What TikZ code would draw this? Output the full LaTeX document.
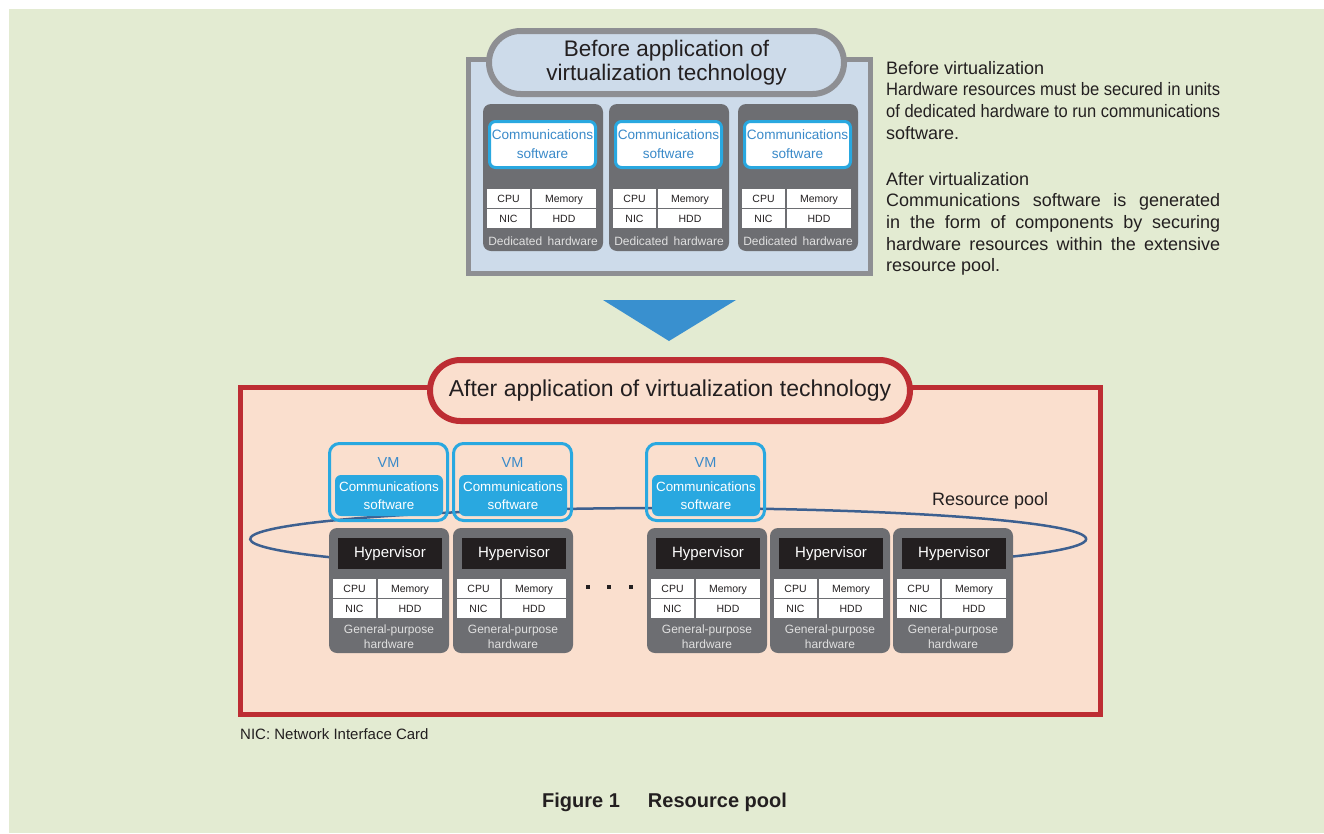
\documentclass[tikz,border=0pt]{standalone}
\usepackage{fontspec}
\setmainfont{Liberation Sans}
\usepackage{graphicx}
\usetikzlibrary{shapes.misc}
\definecolor{bggreen}{HTML}{E3EBD2}
\definecolor{beforefill}{HTML}{CDDBEA}
\definecolor{bordgray}{HTML}{8E8F93}
\definecolor{hwgray}{HTML}{6D6E72}
\definecolor{commblue}{HTML}{29A8E0}
\definecolor{commtext}{HTML}{3A8AC9}
\definecolor{peach}{HTML}{FADFCE}
\definecolor{redc}{HTML}{BD2D33}
\definecolor{poolblue}{HTML}{3D6090}
\definecolor{arrowblue}{HTML}{3990CF}
\definecolor{ink}{HTML}{231F20}
\definecolor{labelgray}{HTML}{E0E0E0}
\newcommand\fs[2]{\fontsize{#1}{#2}\selectfont}
\begin{document}
\begin{tikzpicture}[x=1pt,y=-1pt,
  hwbox/.style={fill=hwgray, rounded corners=8pt, inner sep=0pt, minimum width=120pt},
  cell/.style={fill=white, inner sep=0pt, minimum height=19pt, text height=7.6pt, text depth=0.4pt, text=ink, font=\fs{10.5}{12}},
  commw/.style={draw=commblue, line width=3pt, fill=white, rounded corners=6pt, minimum width=106pt, minimum height=46pt, inner sep=0pt, align=center, text=commtext, font=\fs{13.6}{19}},
  vmbox/.style={draw=commblue, line width=3pt, rounded corners=10pt, minimum width=118pt, minimum height=77pt, inner sep=0pt},
  vmlabel/.style={text=commtext, font=\fs{14.5}{16}, inner sep=0pt},
  vmcomm/.style={fill=commblue, rounded corners=6pt, minimum width=108pt, minimum height=41pt, inner sep=0pt, text=white, align=center, font=\fs{13.4}{18}},
  hyp/.style={fill=ink, minimum width=104pt, minimum height=31pt, inner sep=0pt, text height=11pt, text depth=3pt, text=white, font=\fs{15}{18}},
  hwlabel/.style={text=labelgray, align=center, inner sep=0pt},
  rtext/.style={anchor=base west, inner sep=0pt, font=\fs{18}{21}, text=ink},
  pill/.style={rounded rectangle, line width=6pt, inner sep=0pt, align=center, text=ink, font=\fs{22.5}{24}}
]
\useasboundingbox (0,0) rectangle (1324,833);
\fill[white] (0,0) rectangle (1324,833);
\fill[bggreen] (9,9) rectangle (1324,833);

% ---------- Before ----------
\node[draw=bordgray, line width=5pt, fill=beforefill, minimum width=402pt, minimum height=214pt, inner sep=0pt] (beforebox) at (669.5,166.5) {};
\node[pill, draw=bordgray, fill=beforefill, minimum width=355pt, minimum height=63pt] (beforetitle) at (666.5,62.5) {Before application of\\virtualization technology};

\foreach \i/\x in {1/483,2/609,3/738}{
  \node[hwbox, minimum height=147pt] (d\i) at ({\x+60},177.5) {};
  \node[commw] (dc\i) at ({\x+59.5},144.5) {Communications\\software};
  \node[cell, minimum width=43pt] (dcpu\i) at ({\x+25.5},198.5) {CPU};
  \node[cell, minimum width=64pt] (dmem\i) at ({\x+81},198.5) {Memory};
  \node[cell, minimum width=43pt] (dnic\i) at ({\x+25.5},218.5) {NIC};
  \node[cell, minimum width=64pt] (dhdd\i) at ({\x+81},218.5) {HDD};
  \node[hwlabel, font=\fs{12}{14}] (dl\i) at ({\x+60},241) {Dedicated\hspace{0.45em}hardware};
}

% ---------- Right text ----------
\node[rtext] (t1) at (886,74) {Before virtualization};
\node[rtext] (t2) at (886,95.7) {\resizebox{334pt}{\height}{Hardware resources must be secured in units}};
\node[rtext] (t3) at (886,117.4) {\resizebox{334pt}{\height}{of dedicated hardware to run communications}};
\node[rtext] (t4) at (886,139.1) {software.};
\node[rtext] (t5) at (886,185) {After virtualization};
\node[rtext] (t6) at (886,206.7) {\makebox[334pt][s]{Communications software is generated}};
\node[rtext] (t7) at (886,228.4) {\makebox[334pt][s]{in the form of components by securing}};
\node[rtext] (t8) at (886,250.1) {\makebox[334pt][s]{hardware resources within the extensive}};
\node[rtext] (t9) at (886,271.8) {resource pool.};

% ---------- Arrow ----------
\fill[arrowblue] (603,300) -- (736,300) -- (669,341) -- cycle;

% ---------- After ----------
\node[draw=redc, line width=5pt, fill=peach, minimum width=860pt, minimum height=327pt, inner sep=0pt] (afterbox) at (670,550.5) {};
\node[pill, draw=redc, fill=peach, minimum width=480pt, minimum height=61pt, font=\fs{23}{24}] (aftertitle) at (670,390.5) {After application of virtualization technology};

% resource pool ellipse
\draw[poolblue, line width=2.5pt] (1013,556.5) arc[start angle=-34.4, end angle=215.8, x radius=418pt, y radius=31pt];
\node[anchor=base west, inner sep=0pt, font=\fs{18}{20}, text=ink] (pool) at (932,505) {Resource pool};

\foreach \i/\x in {1/328,2/452,3/645}{
  \node[vmbox] (vm\i) at ({\x+60.5},482) {};
  \node[vmlabel] (vml\i) at ({\x+60.5},462.5) {VM};
  \node[vmcomm] (vc\i) at ({\x+61},495.5) {Communications\\software};
}

\foreach \i/\x in {1/329,2/453,3/647,4/770,5/893}{
  \node[hwbox, minimum height=125pt] (h\i) at ({\x+60},590.5) {};
  \node[hyp] (hy\i) at ({\x+61},553.5) {Hypervisor};
  \node[cell, minimum width=43pt] (hcpu\i) at ({\x+25.5},588.5) {CPU};
  \node[cell, minimum width=64pt] (hmem\i) at ({\x+81},588.5) {Memory};
  \node[cell, minimum width=43pt] (hnic\i) at ({\x+25.5},608.5) {NIC};
  \node[cell, minimum width=64pt] (hhdd\i) at ({\x+81},608.5) {HDD};
  \node[hwlabel, font=\fs{12}{15}] (hl\i) at ({\x+60},636.5) {General-purpose\\hardware};
}

% dots
\fill[ink] (586,585) rectangle (590,589);
\fill[ink] (607,585) rectangle (611,589);
\fill[ink] (629,585) rectangle (633,589);

% ---------- Notes ----------
\node[anchor=base west, inner sep=0pt, font=\fs{15}{17}, text=ink] (note) at (240,739) {NIC: Network Interface Card};
\node[anchor=base west, inner sep=0pt, font=\fs{20}{22}\bfseries, text=ink] (caption) at (542,807) {Figure 1\hspace{28pt}Resource pool};
\end{tikzpicture}
\end{document}
